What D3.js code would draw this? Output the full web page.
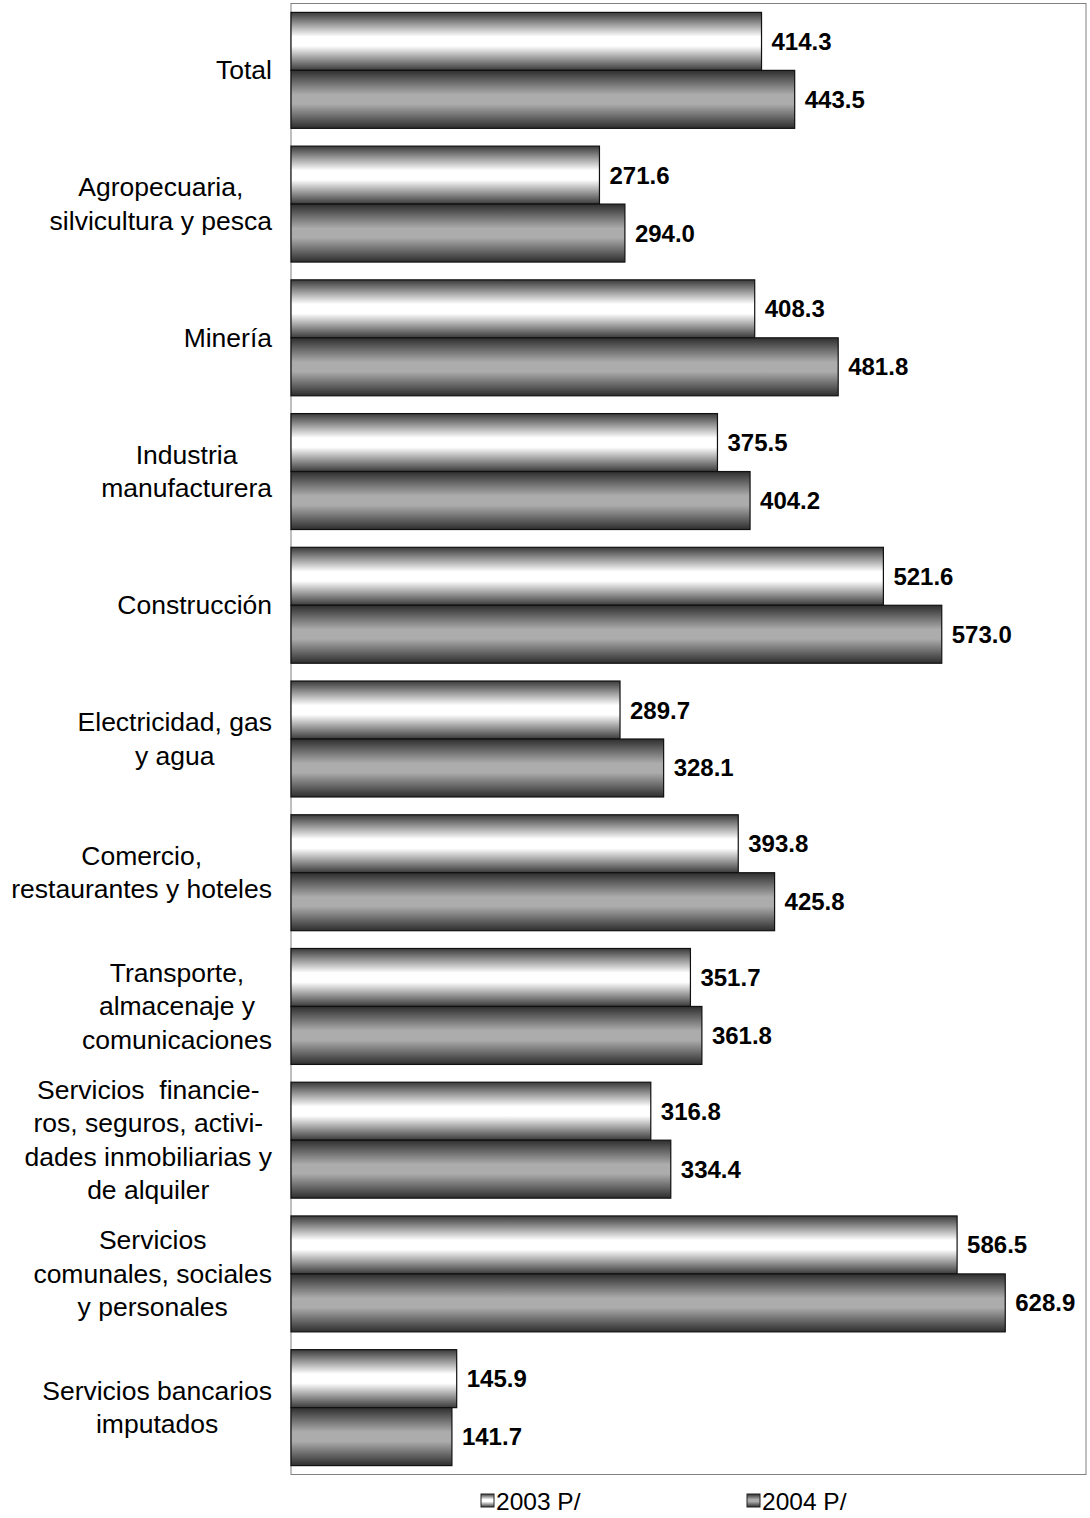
<!DOCTYPE html>
<html><head><meta charset="utf-8">
<script src="https://cdn.jsdelivr.net/npm/d3@7"></script>
<style>html,body{margin:0;padding:0;background:#fff;}</style>
</head><body>
<script>
const categories = [
  ["Total"],
  ["Agropecuaria,", "silvicultura y pesca"],
  ["Minería"],
  ["Industria", "manufacturera"],
  ["Construcción"],
  ["Electricidad, gas", "y agua"],
  ["Comercio,", "restaurantes y hoteles"],
  ["Transporte,", "almacenaje y", "comunicaciones"],
  ["Servicios  financie-", "ros, seguros, activi-", "dades inmobiliarias y", "de alquiler"],
  ["Servicios", "comunales, sociales", "y personales"],
  ["Servicios bancarios", "imputados"]
];
const seriesNames = ["2003 P/", "2004 P/"];
const values2003 = [414.3, 271.6, 408.3, 375.5, 521.6, 289.7, 393.8, 351.7, 316.8, 586.5, 145.9];
const values2004 = [443.5, 294.0, 481.8, 404.2, 573.0, 328.1, 425.8, 361.8, 334.4, 628.9, 141.7];
const xDomain = [0, 700];

const W = 1090, H = 1518;
const plot = {left: 291, top: 3.5, right: 1086, bottom: 1474.5};

const svg = d3.select("body").append("svg").attr("width", W).attr("height", H)
  .style("font-family", "'Liberation Sans', Arial, sans-serif");

const defs = svg.append("defs");
function grad(id, edge, mid) {
  const g = defs.append("linearGradient").attr("id", id).attr("x1", 0).attr("y1", 0).attr("x2", 0).attr("y2", 1);
  [[0, edge], [0.42, mid], [0.58, mid], [1, edge]].forEach(([o, c]) =>
    g.append("stop").attr("offset", o).attr("stop-color", c));
}
grad("g2003", "#3a3a3a", "#ffffff");
grad("g2004", "#2e2e2e", "#acacac");
const fills = ["url(#g2003)", "url(#g2004)"];

const keys = categories.map((c, i) => i);
const y = d3.scaleBand().domain(keys).range([plot.top, plot.bottom]).paddingInner(0.133).paddingOuter(0.0665);
const ySub = d3.scaleBand().domain([0, 1]).range([0, y.bandwidth()]);
const x = d3.scaleLinear().domain(xDomain).range([plot.left, plot.right]);

// frame
svg.append("rect").attr("x", plot.left).attr("y", plot.top)
  .attr("width", plot.right - plot.left).attr("height", plot.bottom - plot.top)
  .attr("fill", "none").attr("stroke", "#808080").attr("stroke-width", 1);

const series = [values2003, values2004];
series.forEach((vals, s) => {
  const g = svg.append("g");
  g.selectAll("rect").data(vals).join("rect")
    .attr("x", x(0))
    .attr("y", (d, i) => y(i) + ySub(s))
    .attr("width", d => x(d) - x(0))
    .attr("height", ySub.bandwidth())
    .attr("fill", fills[s])
    .attr("stroke", "#111").attr("stroke-width", 1.2);
  g.selectAll("text").data(vals).join("text")
    .attr("x", d => x(d) + 10)
    .attr("y", (d, i) => y(i) + ySub(s) + ySub.bandwidth() / 2 + 8.5)
    .attr("font-size", 24).attr("font-weight", "bold").attr("fill", "#000")
    .text(d => d.toFixed(1));
});

// category labels: centered text blocks right-aligned
const lineH = 33.5;
categories.forEach((lines, i) => {
  const cy = y(i) + y.bandwidth() / 2;
  const g = svg.append("g");
  const ts = lines.map((ln, k) => g.append("text")
    .attr("y", cy + (k - (lines.length - 1) / 2) * lineH + 9)
    .attr("font-size", 26.5).attr("fill", "#000")
    .style("white-space", "pre").attr("text-anchor", "middle")
    .text(ln));
  const maxW = d3.max(ts, t => t.node().getComputedTextLength());
  ts.forEach(t => t.attr("x", 272 - maxW / 2));
});

// legend
const legX = [481, 747];
seriesNames.forEach((name, s) => {
  svg.append("rect").attr("x", legX[s]).attr("y", 1494).attr("width", 13).attr("height", 13)
    .attr("fill", fills[s]).attr("stroke", "#222").attr("stroke-width", 1);
  svg.append("text").attr("x", legX[s] + 15).attr("y", 1510)
    .attr("font-size", 24.5).attr("fill", "#000").text(name);
});
</script>
</body></html>
